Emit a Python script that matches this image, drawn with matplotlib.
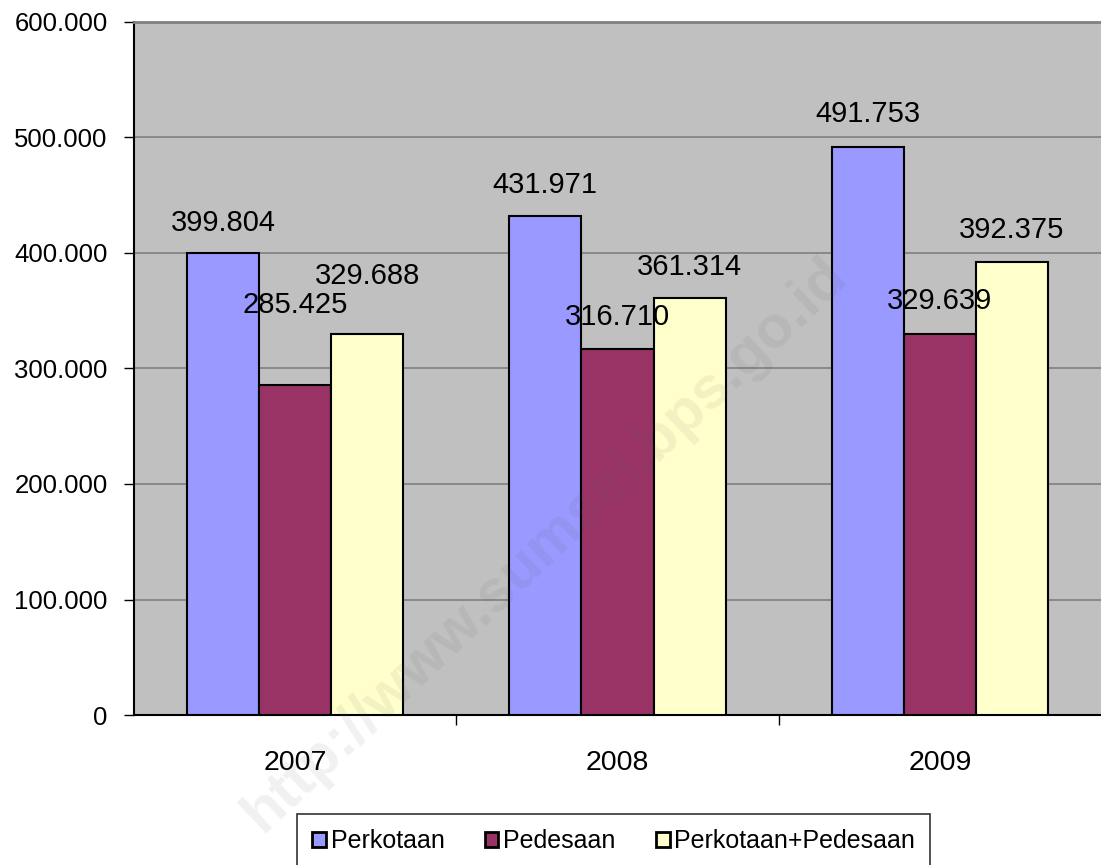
import numpy as np
import matplotlib
matplotlib.use('Agg')
import matplotlib.pyplot as plt

plt.rcParams['font.family'] = ['Liberation Sans', 'DejaVu Sans']

years = ['2007', '2008', '2009']
series = ['Perkotaan', 'Pedesaan', 'Perkotaan+Pedesaan']
perkotaan = [399804, 431971, 491753]
pedesaan = [285425, 316710, 329639]
gabungan = [329688, 361314, 392375]
labels = [['399.804', '431.971', '491.753'],
          ['285.425', '316.710', '329.639'],
          ['329.688', '361.314', '392.375']]
colors = ['#9999FF', '#993366', '#FFFFCC']

# label offset above bar top (points); 2007 labels were moved by hand in the original
offsets = [[22, 22, 24],
           [58, 23, 24],
           [42, 22, 23]]

fig = plt.figure(figsize=(11.01, 8.65), dpi=100)
ax = fig.add_axes([0.1217, 0.1734, 0.8783, 0.8012])
ax.set_facecolor('#C0C0C0')

x = np.arange(len(years))
w = 0.224
for i, vals in enumerate([perkotaan, pedesaan, gabungan]):
    pos = x + (i - 1) * w
    ax.bar(pos, vals, w, color=colors[i], edgecolor='black', linewidth=1.5,
           label=series[i], zorder=3)
    for j in range(len(years)):
        ax.annotate(labels[i][j], (pos[j], vals[j]), xytext=(0, offsets[i][j]),
                    textcoords='offset points', ha='center', va='center',
                    fontsize=21, zorder=4)

ax.set_xlim(-0.5, 2.5)
ax.set_ylim(0, 600000)
yt = np.arange(0, 600001, 100000)
ax.set_yticks(yt)
ax.set_yticklabels(['0' if v == 0 else f'{v // 1000}.000' for v in yt], fontsize=18.5)
ax.yaxis.grid(True, color='#808080', linewidth=1.2, zorder=0)
ax.set_axisbelow(True)

ax.set_xticks(x)
ax.set_xticklabels(years, fontsize=20.5)
ax.tick_params(axis='x', length=0, pad=25)
ax.set_xticks([0.5, 1.5], minor=True)
ax.tick_params(axis='x', which='minor', length=7, direction='out', width=1)
ax.tick_params(axis='y', length=7, direction='out', width=1, pad=12)

for s in ['left', 'bottom']:
    ax.spines[s].set_color('black')
    ax.spines[s].set_linewidth(1.5)
ax.spines['top'].set_color('#808080')
ax.spines['top'].set_linewidth(2)
ax.spines['right'].set_visible(False)

# watermark
fig.text(0.495, 0.37, 'http://www.sumsel.bps.go.id', fontsize=43, color='#5E5E5E',
         alpha=0.09, rotation=43.4, ha='center', va='center', fontweight='bold',
         zorder=10)

leg = fig.legend(loc='upper left', bbox_to_anchor=(297 / 1101, 1 - 814 / 865),
                 ncol=3, fontsize=18, frameon=True, fancybox=False,
                 edgecolor='black', handlelength=0.55, handleheight=0.55,
                 handletextpad=0.2, columnspacing=1.6, borderpad=0.6,
                 borderaxespad=0)
leg.get_frame().set_linewidth(1.2)
for h in leg.legend_handles:
    h.set_linewidth(2)

fig.savefig('out.png', dpi=100)
